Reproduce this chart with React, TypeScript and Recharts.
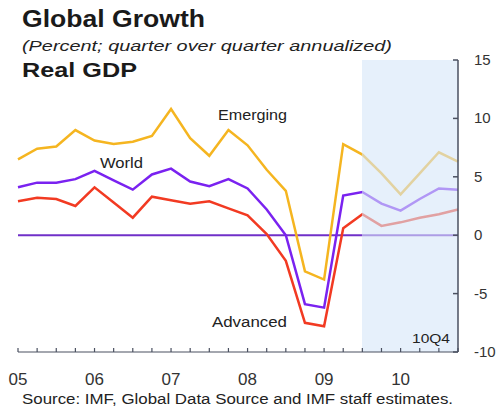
import { LineChart, Line, XAxis, YAxis, ReferenceArea, ReferenceLine } from "recharts";

const QUARTERS = [
  "05Q1", "05Q2", "05Q3", "05Q4",
  "06Q1", "06Q2", "06Q3", "06Q4",
  "07Q1", "07Q2", "07Q3", "07Q4",
  "08Q1", "08Q2", "08Q3", "08Q4",
  "09Q1", "09Q2", "09Q3", "09Q4",
  "10Q1", "10Q2", "10Q3", "10Q4",
];

const EMERGING = [6.5, 7.4, 7.6, 9.0, 8.1, 7.8, 8.0, 8.5, 10.8, 8.3, 6.8, 9.0, 7.7, 5.6, 3.8, -3.1, -3.8, 7.8, 6.9, 5.3, 3.5, 5.3, 7.1, 6.3];
const WORLD = [4.1, 4.5, 4.5, 4.8, 5.5, 4.7, 3.9, 5.2, 5.7, 4.6, 4.2, 4.8, 4.0, 2.2, 0.0, -5.9, -6.2, 3.4, 3.7, 2.7, 2.1, 3.1, 4.0, 3.9];
const ADVANCED = [2.9, 3.2, 3.1, 2.5, 4.1, 2.8, 1.5, 3.3, 3.0, 2.7, 2.9, 2.3, 1.7, 0.1, -2.2, -7.5, -7.8, 0.6, 1.8, 0.8, 1.1, 1.5, 1.8, 2.2];

const Y_TICKS = [15, 10, 5, 0, -5, -10];
const FORECAST_START = 18;

const data = QUARTERS.map((q, i) => ({
  i,
  q,
  emerging: EMERGING[i],
  world: WORLD[i],
  advanced: ADVANCED[i],
}));

const FONT = "'Liberation Sans', Arial, sans-serif";

function QuarterTick(props: any) {
  const { x, y, payload } = props;
  const q = QUARTERS[payload.value];
  return (
    <g>
      <line x1={x} x2={x} y1={y - 4} y2={y} stroke="#4a5060" strokeWidth={1.2} />
      {q.endsWith("Q1") && (
        <text x={x} y={y + 33} textAnchor="middle" fontSize={17} fill="#333" fontFamily={FONT}>
          {q.slice(0, 2)}
        </text>
      )}
    </g>
  );
}

function ValueTick(props: any) {
  const { x, y, payload } = props;
  return (
    <g>
      <line x1={x - 5} x2={x} y1={y} y2={y} stroke="#4a5060" strokeWidth={1.5} />
      <text x={x + 16} y={y + 5} textAnchor="start" fontSize={15} fill="#333" fontFamily={FONT}>
        {payload.value}
      </text>
    </g>
  );
}

export default function App() {
  return (
    <div style={{ position: "absolute", left: 0, top: 0, width: 503, height: 415, background: "#fff" }}>
      <LineChart
        width={503}
        height={415}
        data={data}
        margin={{ top: 60, right: 0, left: 18, bottom: 0 }}
      >
        <XAxis
          dataKey="i"
          type="number"
          domain={[0, 23]}
          ticks={QUARTERS.map((_, i) => i)}
          interval={0}
          height={63}
          tickSize={0}
          tickMargin={0}
          tickLine={false}
          axisLine={{ stroke: "#4a5060", strokeWidth: 1.2 }}
          tick={<QuarterTick />}
        />
        <YAxis
          orientation="right"
          domain={[-10, 15]}
          ticks={Y_TICKS}
          width={45}
          tickSize={0}
          tickMargin={0}
          tickLine={false}
          axisLine={{ stroke: "#4a5060", strokeWidth: 1.5 }}
          tick={<ValueTick />}
        />
        <ReferenceLine y={0} stroke="#7030c8" strokeWidth={2} />
        <Line dataKey="emerging" stroke="#f5b520" strokeWidth={2.5} dot={false} isAnimationActive={false} />
        <Line dataKey="world" stroke="#7a22f0" strokeWidth={2.5} dot={false} isAnimationActive={false} />
        <Line dataKey="advanced" stroke="#f23a22" strokeWidth={2.5} dot={false} isAnimationActive={false} />
        <ReferenceArea
          x1={FORECAST_START - 0.02}
          x2={23}
          y1={-10}
          y2={15}
          fill="#d6e6f8"
          fillOpacity={0.6}
          stroke="none"
          zIndex={450}
        />
      </LineChart>
      <svg
        width={503}
        height={415}
        style={{ position: "absolute", left: 0, top: 0, pointerEvents: "none" }}
        fontFamily={FONT}
      >
        <text x={22} y={27} fontSize={24} fontWeight="bold" fill="#1a1a1a" textLength={183} lengthAdjust="spacingAndGlyphs">
          Global Growth
        </text>
        <text x={22} y={51} fontSize={15} fontStyle="italic" fill="#222" textLength={370} lengthAdjust="spacingAndGlyphs">
          (Percent; quarter over quarter annualized)
        </text>
        <text x={22} y={77} fontSize={20} fontWeight="bold" fill="#1a1a1a" textLength={115} lengthAdjust="spacingAndGlyphs">
          Real GDP
        </text>
        <text x={218} y={120} fontSize={14} fill="#222" textLength={69} lengthAdjust="spacingAndGlyphs">
          Emerging
        </text>
        <text x={100} y={168} fontSize={14} fill="#222" textLength={43} lengthAdjust="spacingAndGlyphs">
          World
        </text>
        <text x={212} y={327} fontSize={14} fill="#222" textLength={75} lengthAdjust="spacingAndGlyphs">
          Advanced
        </text>
        <text x={412} y={343} fontSize={12} fill="#222" textLength={38} lengthAdjust="spacingAndGlyphs">
          10Q4
        </text>
        <text x={22} y={404} fontSize={14} fill="#222" textLength={431} lengthAdjust="spacingAndGlyphs">
          Source: IMF, Global Data Source and IMF staff estimates.
        </text>
      </svg>
    </div>
  );
}
